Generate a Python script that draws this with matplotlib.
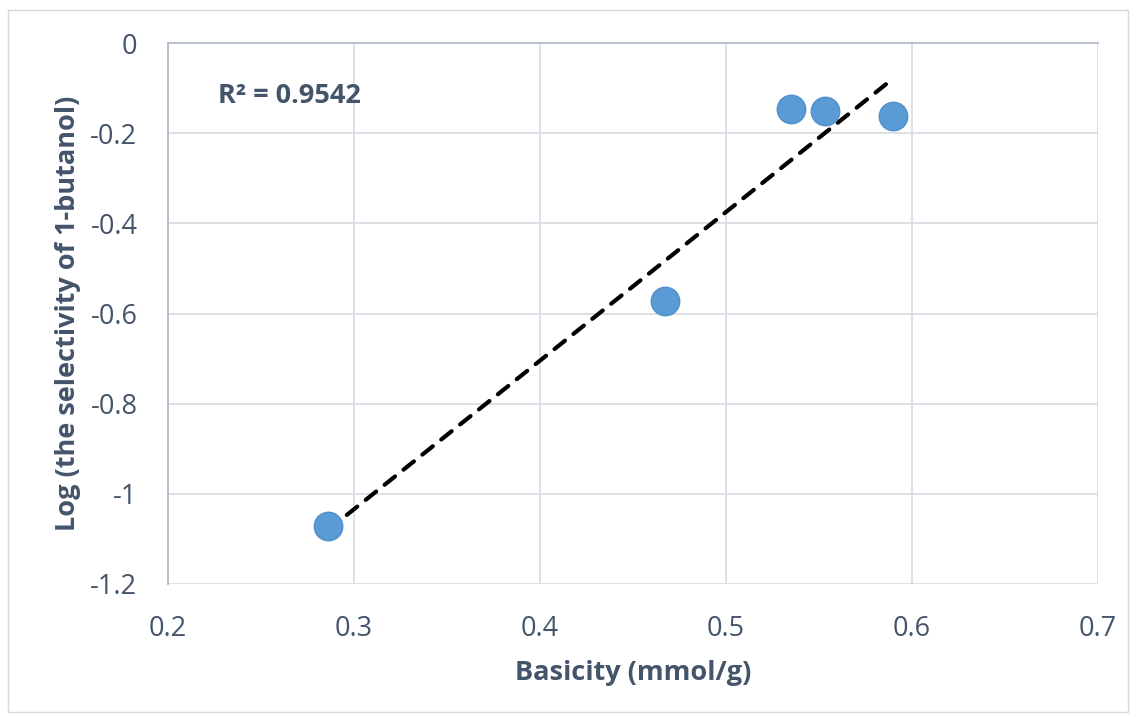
import numpy as np
import matplotlib
matplotlib.use("Agg")
import matplotlib.pyplot as plt
from matplotlib.patches import Rectangle

basicity = [0.286, 0.467, 0.535, 0.553, 0.590]
log_sel = [-1.071, -0.572, -0.147, -0.150, -0.162]
r2_label = "R² = 0.9542"
xlabel = "Basicity (mmol/g)"
ylabel = "Log (the selectivity of 1-butanol)"
xticks = [0.2, 0.3, 0.4, 0.5, 0.6, 0.7]
xtick_labels = ["0.2", "0.3", "0.4", "0.5", "0.6", "0.7"]
yticks = [0, -0.2, -0.4, -0.6, -0.8, -1.0, -1.2]
ytick_labels = ["0", "-0.2", "-0.4", "-0.6", "-0.8", "-1", "-1.2"]

text_color = "#44546A"
grid_color = "#D9DEE6"
axis_color = "#B4BCCB"

plt.rcParams['font.family'] = ['Open Sans', 'DejaVu Sans']

fig = plt.figure(figsize=(11.36, 7.17), dpi=100)
W, H = 1136, 717
ax = fig.add_axes([168 / W, 1 - 584 / H, (1098 - 168) / W, (584 - 43) / H])

# chart-area border
fig.patches.append(Rectangle((8 / W, 1 - 712 / H), (1128 - 8) / W, (712 - 10) / H,
                             transform=fig.transFigure, fill=False,
                             edgecolor="#D9D9D9", linewidth=1.0))

ax.set_xlim(0.2, 0.7)
ax.set_ylim(-1.2, 0)
ax.set_xticks(xticks)
ax.set_xticklabels(xtick_labels)
ax.set_yticks(yticks)
ax.set_yticklabels(ytick_labels)
ax.grid(True, color=grid_color, linewidth=1.3)
ax.set_axisbelow(True)
for s in ["right", "bottom"]:
    ax.spines[s].set_visible(False)
for s in ["left", "top"]:
    ax.spines[s].set_color(axis_color)
    ax.spines[s].set_linewidth(1.3)
ax.tick_params(length=0, labelsize=19.5, colors=text_color)
ax.tick_params(axis="y", pad=22)
ax.tick_params(axis="x", pad=22.5)

x = np.array(basicity)
y = np.array(log_sel)
coef = np.polyfit(x, y, 1)
xf = np.array([x.min(), x.max()])
ax.plot(xf, np.polyval(coef, xf), linestyle=(0, (3.2, 2.6)), color="black",
        linewidth=3, zorder=3, dash_capstyle="round")

ax.scatter(x, y, s=420, color="#5B9BD5", edgecolors="#4F8FCB", linewidths=1, zorder=4)

ax.text(0.054, 0.902, r2_label, transform=ax.transAxes, fontsize=19.5, fontweight="bold",
        color=text_color, ha="left", va="center")

ax.set_xlabel(xlabel, fontsize=19.5, fontweight="bold", color=text_color, labelpad=12)
ax.set_ylabel(ylabel, fontsize=19.5, fontweight="bold", color=text_color, labelpad=7)

fig.savefig("out.png", dpi=100)
